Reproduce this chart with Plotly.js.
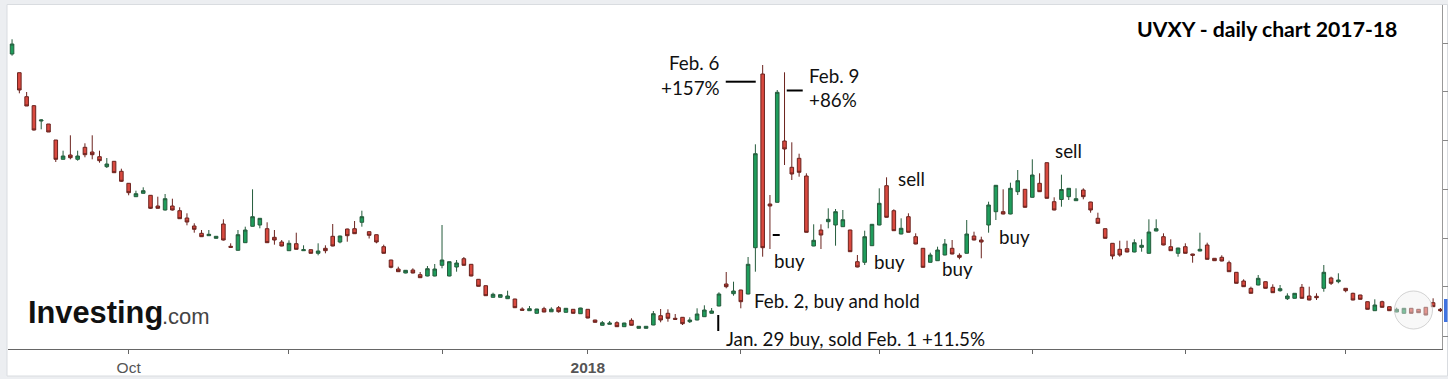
<!DOCTYPE html>
<html><head><meta charset="utf-8">
<script src="https://cdn.plot.ly/plotly-3.0.1.min.js"></script>
<style>html,body{margin:0;padding:0;background:#eceef1;} #chart{width:1448px;height:379px;}</style>
</head><body><div id="chart"></div>
<script>
// trading days (category axis)
const sep17=[8,11,12,13,14,15,18,19,20,21,22,25,26,27,28,29];
const oct17=[2,3,4,5,6,9,10,11,12,13,16,17,18,19,20,23,24,25,26,27,30,31];
const nov17=[1,2,3,6,7,8,9,10,13,14,15,16,17,20,21,22,24,27,28,29,30];
const dec17=[1,4,5,6,7,8,11,12,13,14,15,18,19,20,21,22,26,27,28,29];
const jan18=[2,3,4,5,8,9,10,11,12,16,17,18,19,22,23,24,25,26,29,30,31];
const feb18=[1,2,5,6,7,8,9,12,13,14,15,16,20,21,22,23,26,27,28];
const mar18=[1,2,5,6,7,8,9,12,13,14,15,16,19,20,21,22,23,26,27,28,29];
const apr18=[2,3,4,5,6,9,10,11,12,13,16,17,18,19,20,23,24,25,26,27,30];
const may18=[1,2,3,4,7,8,9,10,11,14,15,16,17,18,21,22,23,24,25,29,30,31];
const jun18=[1,4,5,6,7,8,11,12,13,14,15,18,19,20];

const openP=[38.2,36.33,33.93,33.03,31.5,31.2,29.6,27.67,28.1,27.67,28.87,28.4,27.93,26.93,27.47,26.47,25.27,23.93,24.27,24.07,
23.0,22.6,23.0,22.53,21.8,21.0,20.27,20.03,19.77,21.2,18.97,18.57,19.33,20.97,21.1,20.73,19.87,19.4,18.53,19.23,
18.53,18.63,18.27,18.77,19.97,19.4,20.7,20.73,21.37,20.43,20.13,18.93,17.6,16.7,16.3,16.6,16.13,16.0,16.0,17.07,
16.0,16.9,17.73,17.17,15.67,15.03,13.87,13.87,13.73,13.7,12.7,12.53,12.27,12.73,12.42,12.83,12.37,12.67,12.23,12.67,
11.6,11.07,11.17,11.33,10.93,11.57,10.77,10.77,11.1,12.03,12.27,11.77,11.87,11.43,11.6,11.93,12.27,13.0,15.2,14.23,
14.6,14.2,18.83,36.2,23.2,23.37,29.5,26.87,27.77,26.0,19.0,20.6,21.43,21.1,20.93,20.6,17.43,17.37,19.03,21.1,
25.03,22.53,20.2,21.93,19.93,18.77,17.37,17.53,18.1,18.77,18.07,18.27,20.0,19.6,21.1,22.43,22.43,22.2,24.43,24.67,
23.87,25.27,27.33,23.43,23.65,23.93,23.53,24.6,23.4,21.77,20.73,19.27,18.67,18.73,18.4,18.87,18.27,20.5,19.93,18.93,
18.27,18.93,18.2,18.5,19.1,17.77,17.87,17.33,16.37,15.5,14.77,15.1,15.43,14.87,14.53,13.73,13.77,14.87,14.0,13.97,
14.77,15.8,15.43,14.77,14.27,14.1,13.43,12.53,13.43,12.93,12.4,12.27,12.77,12.67,12.87,13.33,12.67];
const highP=[39.67,36.33,34.4,33.1,31.67,31.2,29.6,28.53,30.07,28.53,29.27,30.07,28.53,27.8,27.5,26.73,25.3,24.53,24.87,24.1,
23.93,24.2,23.73,22.87,22.27,21.27,20.6,20.6,20.0,21.67,19.27,20.6,20.93,24.67,21.8,21.37,20.6,19.6,19.57,20.33,
19.07,18.65,19.27,19.07,21.2,20.03,20.73,21.5,22.53,20.45,20.15,19.13,17.62,16.93,16.6,16.77,16.4,17.0,17.2,21.1,
17.45,17.6,17.9,17.2,15.7,15.05,14.33,14.15,14.53,13.72,12.87,13.0,12.72,12.92,12.87,13.0,12.8,12.7,12.82,12.7,
11.62,11.5,11.5,11.47,11.32,11.77,10.98,10.98,12.5,12.7,12.67,12.2,11.9,11.87,12.77,13.07,12.8,14.37,16.4,15.43,
14.62,17.9,29.17,37.1,24.1,34.6,36.37,29.37,28.23,26.27,21.17,21.17,22.77,22.7,22.6,20.62,18.1,20.53,21.2,24.77,
25.87,22.67,21.77,22.27,20.27,18.8,18.33,18.93,19.7,19.6,18.27,21.6,20.43,19.93,23.43,25.1,24.67,25.33,26.6,24.7,
27.67,26.27,27.35,23.87,26.13,24.8,24.77,24.77,23.42,22.33,20.75,19.3,19.53,19.53,19.67,19.67,21.67,21.67,20.27,19.67,
18.82,19.27,18.22,20.33,19.33,17.8,18.07,17.53,16.4,15.67,14.93,16.1,15.45,15.17,15.1,14.27,14.28,15.2,14.93,14.27,
17.1,15.93,16.27,14.8,14.33,14.12,13.45,13.67,13.53,12.95,12.83,12.78,12.8,12.7,12.9,13.77,12.8];
const lowP=[38.03,34.27,33.0,30.55,30.67,30.4,27.4,27.67,27.67,27.53,27.87,27.67,27.33,26.8,26.3,25.4,24.07,23.9,24.25,22.7,
22.75,22.55,22.55,21.7,21.07,20.33,19.9,20.0,19.75,19.55,18.85,18.55,19.3,20.95,20.77,19.3,19.13,18.97,18.5,18.65,
18.5,18.25,18.07,18.27,18.97,19.27,19.43,20.2,20.93,19.75,19.27,18.25,16.77,16.4,16.27,16.27,15.8,15.97,15.97,16.77,
15.97,16.43,17.05,15.97,14.95,14.0,13.85,13.85,13.7,12.8,12.55,12.5,12.25,12.38,12.4,12.33,12.35,12.25,12.2,11.77,
11.35,11.05,11.15,10.9,10.9,11.05,10.75,10.75,11.08,11.37,11.43,11.65,11.1,11.3,11.57,11.9,12.25,12.97,14.77,14.03,
12.77,14.17,16.43,17.93,18.7,23.35,27.1,25.6,25.93,20.35,18.98,18.7,20.77,19.03,20.9,18.4,16.87,17.1,19.0,21.07,
21.85,20.5,20.17,20.35,19.17,16.85,17.35,17.5,18.07,18.17,17.67,18.25,19.57,17.77,20.33,21.6,22.17,22.17,24.1,22.85,
23.85,24.4,23.75,22.57,22.93,23.6,23.5,23.67,22.33,21.25,19.75,17.67,17.93,18.37,18.37,18.43,18.25,20.47,19.07,18.5,
17.93,18.25,17.33,18.48,17.65,17.5,17.47,16.4,15.25,14.9,14.25,15.07,14.75,14.3,14.43,13.6,13.75,13.75,13.57,13.6,
14.43,15.1,15.27,14.37,13.57,13.65,12.65,12.5,12.85,12.5,12.38,12.25,12.25,12.3,12.08,12.9,12.4];
const closeP=[39.2,34.6,33.0,30.6,31.6,30.4,27.67,28.0,27.83,28.0,28.13,28.13,27.53,27.2,26.33,25.47,24.33,24.23,24.53,22.77,
22.77,23.73,22.6,21.73,21.4,20.67,19.93,20.17,19.97,19.6,18.87,20.13,20.6,21.93,21.77,19.33,19.6,19.0,19.27,18.67,
18.63,18.27,18.5,18.53,19.0,20.0,20.03,20.23,21.93,20.07,19.4,18.27,16.87,16.43,16.57,16.3,15.83,16.73,16.7,17.6,
17.43,17.3,17.07,16.0,14.97,14.03,14.17,14.13,14.0,12.83,12.57,12.73,12.7,12.4,12.68,12.43,12.77,12.27,12.8,11.8,
11.37,11.33,11.3,10.93,11.3,11.07,10.97,10.97,12.23,11.6,11.77,11.67,11.23,11.6,12.2,12.6,12.5,14.2,14.93,14.5,
13.43,17.17,28.23,18.83,23.0,34.37,28.7,26.2,26.37,20.37,19.57,20.1,21.67,22.43,21.63,18.43,16.9,19.93,21.17,23.27,
21.87,20.53,20.77,20.37,19.2,16.87,18.1,18.6,19.2,18.2,17.87,20.2,19.6,19.4,23.1,25.07,22.2,24.77,25.53,22.87,
26.1,24.43,23.77,22.6,24.65,24.77,23.73,23.93,22.6,21.27,19.77,18.0,18.1,18.4,19.33,19.07,20.4,20.73,19.1,18.53,
18.8,18.27,18.07,18.67,17.67,17.53,17.5,16.43,15.27,14.93,14.27,15.77,14.77,14.33,14.73,14.0,14.27,13.77,13.6,13.83,
16.37,15.27,15.6,14.53,13.6,13.67,12.67,13.1,12.87,12.53,12.67,12.77,12.27,12.33,12.1,12.93,12.53];

const tickDates=['2017-10-02','2017-11-01','2017-12-01','2018-01-02','2018-02-01','2018-03-01','2018-04-02','2018-05-01','2018-06-01'];
const tickLabels=['Oct','','','<b>2018</b>','','','','',''];
const yTicks=[10,15,19.8,24.7,29.6,34.5,39.3];

function days(y,m,list){return list.map(d=>y+'-'+String(m).padStart(2,'0')+'-'+String(d).padStart(2,'0'));}
const dates=[].concat(days(2017,9,sep17),days(2017,10,oct17),days(2017,11,nov17),days(2017,12,dec17),
  days(2018,1,jan18),days(2018,2,feb18),days(2018,3,mar18),days(2018,4,apr18),days(2018,5,may18),days(2018,6,jun18));

const W=1448,H=379,ML=8,MR=5.5,MT=5,MB=30;
const PW=W-ML-MR,PH=H-MT-MB;
const PX=px=>(px-ML)/PW, PY=py=>(H-MB-py)/PH;

const annFont={family:'Lato, "Open Sans", sans-serif',size:18.8,color:'#111'};
function ann(text,px,py,xa,font){return {text:text,xref:'paper',yref:'paper',x:PX(px),y:PY(py),xanchor:xa,yanchor:'middle',showarrow:false,font:font||annFont,borderpad:0};}
function seg(x0,y0,x1,y1,w){return {type:'line',xref:'paper',yref:'paper',x0:PX(x0),y0:PY(y0),x1:PX(x1),y1:PY(y1),line:{color:'#000',width:w||2}};}

const trace={type:'candlestick',x:dates,open:openP,high:highP,low:lowP,close:closeP,
  increasing:{line:{color:'#255c3c',width:1},fillcolor:'#1f9d5c'},
  decreasing:{line:{color:'#6b231e',width:1},fillcolor:'#d9493f'},
  whiskerwidth:0,hoverinfo:'skip'};

const layout={width:W,height:H,margin:{l:ML,r:MR,t:MT,b:MB,pad:0},
  paper_bgcolor:'#eceef1',plot_bgcolor:'#ffffff',showlegend:false,
  xaxis:{type:'category',range:[-0.557,196.22],tickvals:tickDates,ticktext:tickLabels,ticks:'outside',ticklen:4,tickcolor:'#666',
    showline:true,linecolor:'#666',linewidth:1,showgrid:false,zeroline:false,rangeslider:{visible:false},fixedrange:true,
    tickfont:{family:'"Liberation Sans", Arial, sans-serif',size:15.5,color:'#555'}},
  yaxis:{side:'right',range:[8.7,43.1],tickvals:yTicks,ticks:'outside',ticklen:6,tickcolor:'#888',showticklabels:false,
    showline:true,linecolor:'#999',linewidth:1,showgrid:false,zeroline:false,fixedrange:true},
  shapes:[
    {type:'rect',xref:'paper',yref:'paper',x0:PX(7),y0:PY(4.5),x1:PX(1448),y1:PY(376),fillcolor:'#ffffff',line:{color:'#d9dce0',width:1},layer:'below'},
    seg(726,81.7,756,81.7),seg(787,90.5,803,90.5),seg(773,235,780,235),seg(718.5,315,718.5,331),
    {type:'circle',xref:'paper',yref:'paper',x0:PX(1395),y0:PY(291),x1:PX(1433),y1:PY(329),fillcolor:'rgba(240,240,240,0.45)',line:{color:'rgba(200,200,200,0.8)',width:1},layer:'above'},
    {type:'rect',xref:'paper',yref:'paper',x0:PX(1444.5),y0:PY(299),x1:PX(1448),y1:PY(322),fillcolor:'#3f73e0',line:{width:0}}
  ],
  annotations:[
    ann('<b>UVXY - daily chart 2017-18</b>',1136,29,'left',{family:'Lato, sans-serif',size:21.2,color:'#000'}),
    ann('Feb. 6',720,63,'right'),ann('+157%',721,87,'right'),
    ann('Feb. 9',808,75,'left'),ann('+86%',808,99,'left'),
    ann('buy',773,260,'left'),ann('sell',897,178,'left'),ann('buy',873,261,'left'),ann('buy',941,268,'left'),
    ann('buy',998,236,'left'),ann('sell',1054,150,'left'),
    ann('Feb. 2, buy and hold',753,300,'left'),
    ann('Jan. 29 buy, sold Feb. 1 +11.5%',725,338.5,'left'),
    ann('<b>Investing</b>',27,312,'left',{family:'"Liberation Sans", Arial, sans-serif',size:30.8,color:'#111'}),
    ann('.com',161,316,'left',{family:'"Liberation Sans", Arial, sans-serif',size:22,color:'#444'})
  ]};

Plotly.newPlot('chart',[trace],layout,{staticPlot:true,displayModeBar:false});
</script></body></html>
